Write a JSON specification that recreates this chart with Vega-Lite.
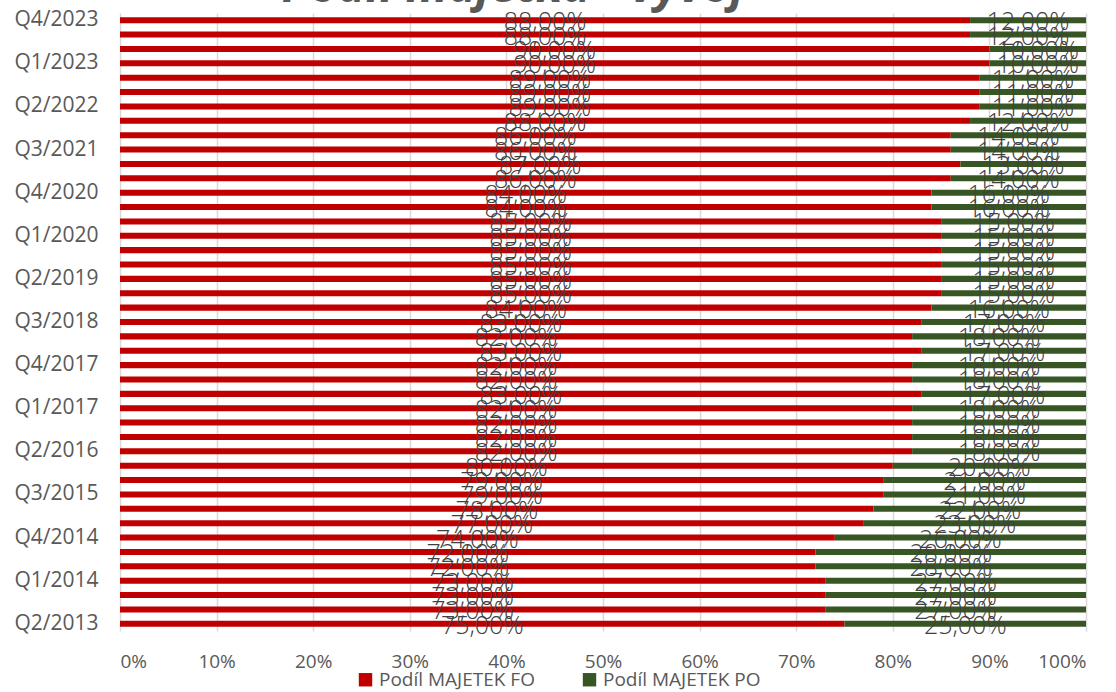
{
  "$schema": "https://vega.github.io/schema/vega-lite/v6.json",
  "width": 966,
  "height": 618,
  "autosize": {"type": "none"},
  "padding": {"left": 120, "top": 13, "right": 30, "bottom": 61},
  "background": "white",
  "title": {
    "text": "Podíl majetku - vývoj",
    "anchor": "middle",
    "font": "Open Sans",
    "fontSize": 47,
    "fontWeight": "bold",
    "fontStyle": "italic",
    "color": "#595959",
    "offset": -3,
    "dx": -90
  },
  "config": {
    "locale": {"number": {"decimal": ",", "thousands": " ", "grouping": [3], "currency": ["", " Kč"]}},
    "view": {"stroke": null},
    "font": "Open Sans"
  },
  "data": {
    "values": [
      {"q": "Q4/2023", "FO": 0.88, "PO": 0.12},
      {"q": "Q3/2023", "FO": 0.88, "PO": 0.12},
      {"q": "Q2/2023", "FO": 0.90, "PO": 0.10},
      {"q": "Q1/2023", "FO": 0.90, "PO": 0.10},
      {"q": "Q4/2022", "FO": 0.89, "PO": 0.11},
      {"q": "Q3/2022", "FO": 0.89, "PO": 0.11},
      {"q": "Q2/2022", "FO": 0.89, "PO": 0.11},
      {"q": "Q1/2022", "FO": 0.88, "PO": 0.12},
      {"q": "Q4/2021", "FO": 0.86, "PO": 0.14},
      {"q": "Q3/2021", "FO": 0.86, "PO": 0.14},
      {"q": "Q2/2021", "FO": 0.87, "PO": 0.13},
      {"q": "Q1/2021", "FO": 0.86, "PO": 0.14},
      {"q": "Q4/2020", "FO": 0.84, "PO": 0.16},
      {"q": "Q3/2020", "FO": 0.84, "PO": 0.16},
      {"q": "Q2/2020", "FO": 0.85, "PO": 0.15},
      {"q": "Q1/2020", "FO": 0.85, "PO": 0.15},
      {"q": "Q4/2019", "FO": 0.85, "PO": 0.15},
      {"q": "Q3/2019", "FO": 0.85, "PO": 0.15},
      {"q": "Q2/2019", "FO": 0.85, "PO": 0.15},
      {"q": "Q1/2019", "FO": 0.85, "PO": 0.15},
      {"q": "Q4/2018", "FO": 0.84, "PO": 0.16},
      {"q": "Q3/2018", "FO": 0.83, "PO": 0.17},
      {"q": "Q2/2018", "FO": 0.82, "PO": 0.18},
      {"q": "Q1/2018", "FO": 0.83, "PO": 0.17},
      {"q": "Q4/2017", "FO": 0.82, "PO": 0.18},
      {"q": "Q3/2017", "FO": 0.82, "PO": 0.18},
      {"q": "Q2/2017", "FO": 0.83, "PO": 0.17},
      {"q": "Q1/2017", "FO": 0.82, "PO": 0.18},
      {"q": "Q4/2016", "FO": 0.82, "PO": 0.18},
      {"q": "Q3/2016", "FO": 0.82, "PO": 0.18},
      {"q": "Q2/2016", "FO": 0.82, "PO": 0.18},
      {"q": "Q1/2016", "FO": 0.80, "PO": 0.20},
      {"q": "Q4/2015", "FO": 0.79, "PO": 0.21},
      {"q": "Q3/2015", "FO": 0.79, "PO": 0.21},
      {"q": "Q2/2015", "FO": 0.78, "PO": 0.22},
      {"q": "Q1/2015", "FO": 0.77, "PO": 0.23},
      {"q": "Q4/2014", "FO": 0.74, "PO": 0.26},
      {"q": "Q3/2014", "FO": 0.72, "PO": 0.28},
      {"q": "Q2/2014", "FO": 0.72, "PO": 0.28},
      {"q": "Q1/2014", "FO": 0.73, "PO": 0.27},
      {"q": "Q4/2013", "FO": 0.73, "PO": 0.27},
      {"q": "Q3/2013", "FO": 0.73, "PO": 0.27},
      {"q": "Q2/2013", "FO": 0.75, "PO": 0.25}
    ]
  },
  "transform": [{"fold": ["FO", "PO"], "as": ["series", "v"]}],
  "encoding": {
    "y": {
      "field": "q",
      "type": "nominal",
      "scale": {
        "domain": ["Q4/2023","Q3/2023","Q2/2023","Q1/2023","Q4/2022","Q3/2022","Q2/2022","Q1/2022","Q4/2021","Q3/2021","Q2/2021","Q1/2021","Q4/2020","Q3/2020","Q2/2020","Q1/2020","Q4/2019","Q3/2019","Q2/2019","Q1/2019","Q4/2018","Q3/2018","Q2/2018","Q1/2018","Q4/2017","Q3/2017","Q2/2017","Q1/2017","Q4/2016","Q3/2016","Q2/2016","Q1/2016","Q4/2015","Q3/2015","Q2/2015","Q1/2015","Q4/2014","Q3/2014","Q2/2014","Q1/2014","Q4/2013","Q3/2013","Q2/2013"],
        "paddingInner": 0.58,
        "paddingOuter": 0.29
      },
      "axis": {
        "title": null,
        "values": ["Q4/2023","Q1/2023","Q2/2022","Q3/2021","Q4/2020","Q1/2020","Q2/2019","Q3/2018","Q4/2017","Q1/2017","Q2/2016","Q3/2015","Q4/2014","Q1/2014","Q2/2013"],
        "ticks": false,
        "domain": false,
        "grid": false,
        "labelFont": "Open Sans",
        "labelFontSize": 21,
        "labelColor": "#595959",
        "labelPadding": 22
      }
    }
  },
  "layer": [
    {
      "mark": {"type": "bar"},
      "encoding": {
        "x": {
          "field": "v",
          "type": "quantitative",
          "stack": "zero",
          "scale": {"domain": [0, 1], "nice": false},
          "axis": {
            "title": null,
            "format": ".0%",
            "values": [0, 0.1, 0.2, 0.3, 0.4, 0.5, 0.6, 0.7, 0.8, 0.9, 1],
            "ticks": false,
            "domain": false,
            "grid": true,
            "gridColor": "#D9D9D9",
            "gridWidth": 1.5,
            "labelFont": "Open Sans",
            "labelFontSize": 19,
            "labelColor": "#595959",
            "labelPadding": 21
          }
        },
        "color": {
          "field": "series",
          "type": "nominal",
          "scale": {"domain": ["FO", "PO"], "range": ["#C00000", "#375623"]},
          "legend": {
            "title": null,
            "orient": "none",
            "legendX": 236,
            "legendY": 657,
            "direction": "horizontal",
            "labelExpr": "'Podíl MAJETEK  ' + datum.label",
            "labelFont": "Open Sans",
            "labelFontSize": 19,
            "labelColor": "#595959",
            "labelLimit": 0,
            "symbolType": "square",
            "symbolSize": 180,
            "symbolStrokeWidth": 0,
            "columnPadding": 40,
            "labelOffset": 4,
            "padding": 0
          }
        }
      }
    },
    {
      "transform": [
        {"stack": "v", "groupby": ["q"], "sort": [{"field": "series"}], "as": ["x0", "x1"]},
        {"fold": ["x0", "x1"], "as": ["edge", "pos"]},
        {"aggregate": [{"op": "mean", "field": "pos", "as": "mid"}], "groupby": ["q", "series", "v"]}
      ],
      "mark": {"type": "text", "font": "Open Sans", "fontSize": 25, "fontWeight": 300, "color": "#404040", "baseline": "middle", "dy": 2},
      "encoding": {
        "x": {"field": "mid", "type": "quantitative"},
        "text": {"field": "v", "type": "quantitative", "format": ".2%"}
      }
    }
  ]
}
